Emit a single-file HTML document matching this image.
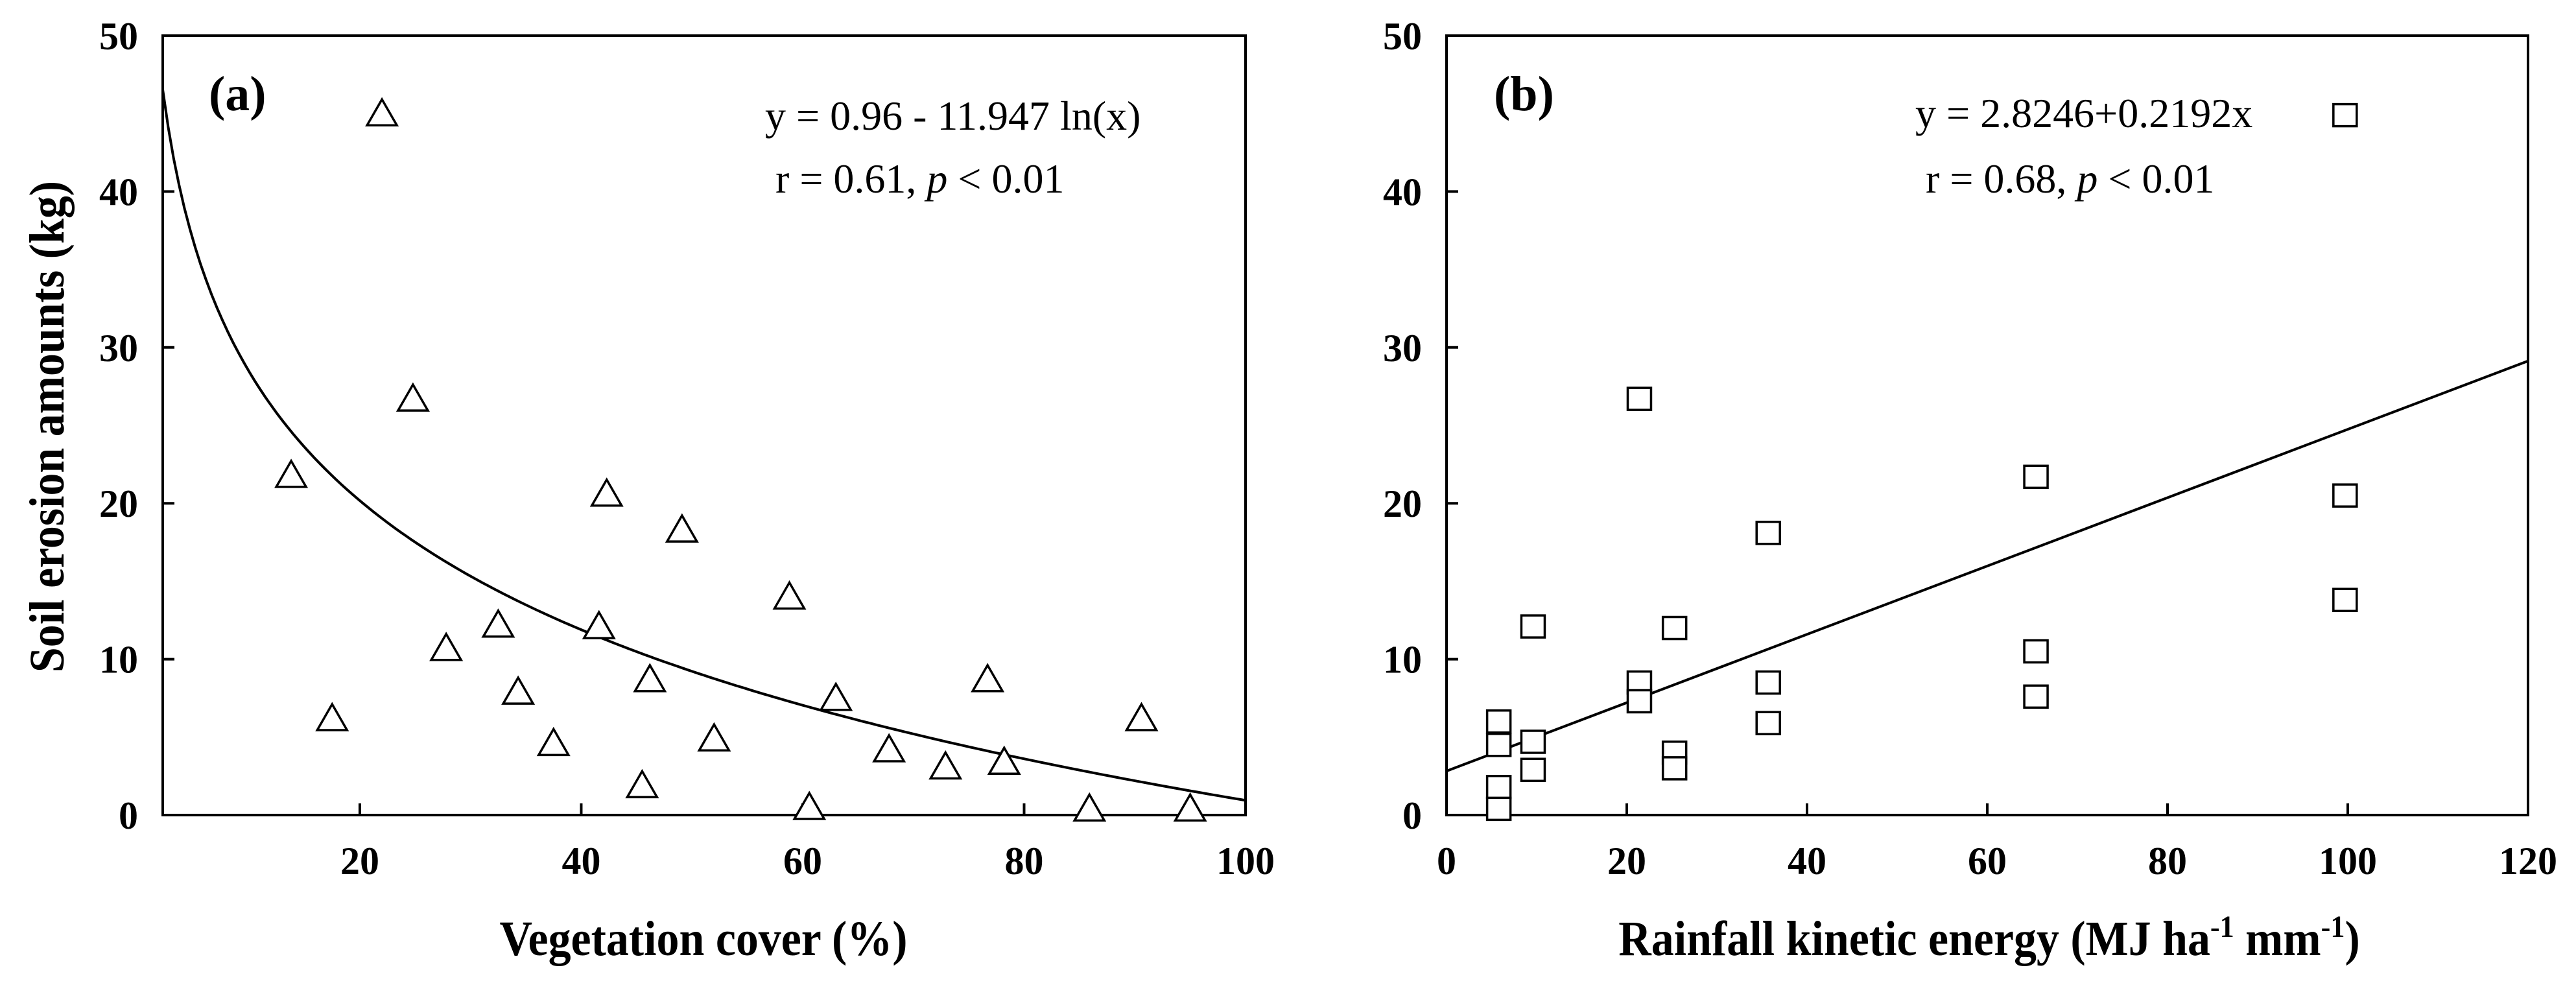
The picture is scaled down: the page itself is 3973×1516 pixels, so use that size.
<!DOCTYPE html>
<html><head><meta charset="utf-8"><style>
html,body{margin:0;padding:0;background:#fff;}
svg{display:block;font-family:"Liberation Serif",serif;}
svg text{font-family:"Liberation Serif",serif;}
</style></head><body>
<svg id="fig" width="3973" height="1516" viewBox="0 0 3973 1516">
<g id="pa"></g>
<g id="pb"></g>
</svg>
<script>
// Panel (a) data
const vegCover = [22,13.8,17.5,24.8,27.8,32.5,34.3,37.5,41.6,42.3,45.5,46.2,49.1,52,58.8,60.6,63,67.8,72.9,76.7,78.2,85.9,90.6,95];
const erosionA = [45,21.8,6.2,26.7,10.7,12.2,7.9,4.6,12.1,20.6,1.9,8.7,18.3,4.9,14.0,0.5,7.5,4.2,3.1,8.7,3.4,0.4,6.2,0.4];
const xTicksA = [20,40,60,80,100];
const yTicks = [0,10,20,30,40,50];
const fitA = [55.96, -11.947]; // intercept, slope on ln(x)
// Panel (b) data
const rainKE = [5.8,5.8,5.8,5.8,9.6,9.6,9.6,21.4,21.4,21.4,25.3,25.3,25.3,35.7,35.7,35.7,65.4,65.4,65.4,99.7,99.7,99.7];
const erosionB = [6.0,4.5,1.8,0.4,12.1,4.7,2.9,26.7,8.5,7.3,12.0,4.0,3.0,18.1,8.5,5.9,21.7,10.5,7.6,44.9,20.5,13.8];
const xTicksB = [0,20,40,60,80,100,120];
const fitB = [2.8246, 0.2192];

const NS='http://www.w3.org/2000/svg';
function mk(p,tag,attrs,txt){const e=document.createElementNS(NS,tag);for(const k in attrs)e.setAttribute(k,attrs[k]);if(txt!==undefined)e.textContent=txt;p.appendChild(e);return e;}

function panel(g, L, R, xmin, xmax, xTicks){
  const T=55,B=1257;
  const sx=v=>L+(v-xmin)/(xmax-xmin)*(R-L);
  const sy=v=>B-v/50*(B-T);
  const f=mk(g,'rect',{x:L,y:T,width:R-L,height:B-T,fill:'none',stroke:'#000','stroke-width':4});
  
  
  yTicks.forEach(v=>{
    if(v>0&&v<50){const t=mk(g,'line',{x1:L,x2:L+18,y1:sy(v),y2:sy(v),stroke:'#000','stroke-width':4});
    
    }
    const l=mk(g,'text',{x:L-38,y:sy(v)+21,'text-anchor':'end','font-size':60,'font-weight':'bold'},String(v));
    
    
  });
  xTicks.forEach(v=>{
    if(v>xmin&&v<xmax){const t=mk(g,'line',{x1:sx(v),x2:sx(v),y1:B,y2:B-18,stroke:'#000','stroke-width':4});
    
    }
    const l=mk(g,'text',{x:sx(v),y:1348,'text-anchor':'middle','font-size':60,'font-weight':'bold'},String(v));
    
    
  });
  return {sx,sy};
}

// Panel A
const ga=document.getElementById('pa');
const A=panel(ga,251,1921,2.2,100,xTicksA);
let d='';
for(let i=0;i<=200;i++){const x=2.2+(100-2.2)*i/200;const y=fitA[0]+fitA[1]*Math.log(x);d+=(i?'L':'M')+A.sx(x).toFixed(1)+' '+A.sy(y).toFixed(1);}
const ca=mk(ga,'path',{d:d,fill:'none',stroke:'#000','stroke-width':4});


vegCover.forEach((x,i)=>{
  const cx=A.sx(x),cy=A.sy(erosionA[i]);
  const p=mk(ga,'polygon',{points:`${cx},${cy-22} ${cx-23},${cy+18} ${cx+23},${cy+18}`,fill:'#fff',stroke:'#000','stroke-width':3.5});
  
  
});
// Panel B
const gb=document.getElementById('pb');
const Bp=panel(gb,2231,3899,0,120,xTicksB);
const lb=mk(gb,'line',{x1:Bp.sx(0),y1:Bp.sy(fitB[0]),x2:Bp.sx(120),y2:Bp.sy(fitB[0]+fitB[1]*120),stroke:'#000','stroke-width':4});


rainKE.forEach((x,i)=>{
  const cx=Bp.sx(x),cy=Bp.sy(erosionB[i]);
  const r=mk(gb,'rect',{x:cx-18,y:cy-17,width:36,height:34,fill:'#fff',stroke:'#000','stroke-width':3.5});
  
  
});
</script>
<script>
const fig=document.getElementById('fig');
fig.insertAdjacentHTML('beforeend',`
<text x="322" y="170" font-size="76" font-weight="bold" font-family="Liberation Serif, serif">(a)</text>
<text x="1180" y="200" font-size="64" font-family="Liberation Serif, serif">y = 0.96 - 11.947 ln(x)</text>
<text x="1196" y="297" font-size="64" font-family="Liberation Serif, serif">r = 0.61, <tspan font-style="italic">p</tspan> &lt; 0.01</text>
<text transform="translate(1085,1473) scale(0.92,1)" text-anchor="middle" font-size="76" font-weight="bold" font-family="Liberation Serif, serif">Vegetation cover (%)</text>
<text transform="translate(98,658) rotate(-90) scale(0.92,1)" text-anchor="middle" font-size="76" font-weight="bold" font-family="Liberation Serif, serif">Soil erosion amounts (kg)</text>
<text x="2304" y="170" font-size="76" font-weight="bold" font-family="Liberation Serif, serif">(b)</text>
<text x="2954" y="196" font-size="64" font-family="Liberation Serif, serif">y = 2.8246+0.2192x</text>
<text x="2970" y="297" font-size="64" font-family="Liberation Serif, serif">r = 0.68, <tspan font-style="italic">p</tspan> &lt; 0.01</text>
<text transform="translate(3068,1473) scale(0.92,1)" text-anchor="middle" font-size="76" font-weight="bold" font-family="Liberation Serif, serif">Rainfall kinetic energy (MJ ha<tspan dy="-28" font-size="48">-1</tspan><tspan dy="28"> mm</tspan><tspan dy="-28" font-size="48">-1</tspan><tspan dy="28">)</tspan></text>
`);
</script>
</body></html>
